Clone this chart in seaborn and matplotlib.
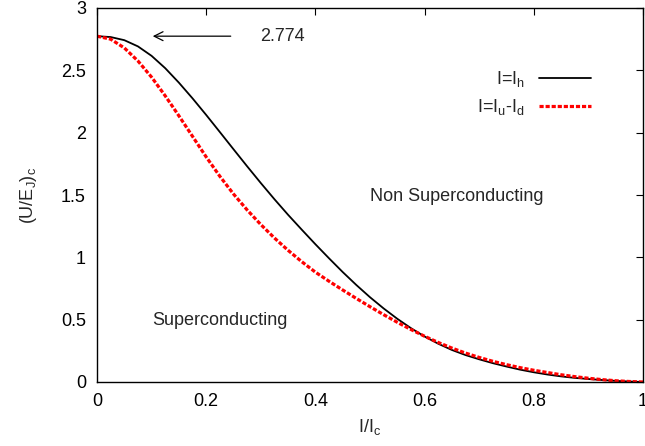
import numpy as np
import pandas as pd
import matplotlib
matplotlib.use("Agg")
import matplotlib.pyplot as plt
import seaborn as sns

# I/I_c sampling
corriente = [0.0, 0.025, 0.05, 0.075, 0.1, 0.125, 0.15, 0.175, 0.2, 0.225,
             0.25, 0.275, 0.3, 0.325, 0.35, 0.375, 0.4, 0.425, 0.45, 0.475,
             0.5, 0.525, 0.55, 0.575, 0.6, 0.625, 0.65, 0.675, 0.7, 0.725,
             0.75, 0.775, 0.8, 0.825, 0.85, 0.875, 0.9, 0.925, 0.95, 0.975, 1.0]

# I = I_h  (black solid)
barrera_h = [2.774, 2.767, 2.742, 2.692, 2.616, 2.517, 2.401, 2.275, 2.142, 2.005,
             1.867, 1.730, 1.596, 1.466, 1.341, 1.222, 1.105, 0.992, 0.882, 0.778,
             0.680, 0.590, 0.507, 0.432, 0.365, 0.307, 0.257, 0.216, 0.182, 0.151,
             0.124, 0.099, 0.078, 0.060, 0.045, 0.033, 0.024, 0.016, 0.009, 0.004, 0.0]

# I = I_u - I_d  (red dashed)
barrera_ud = [2.774, 2.75, 2.68, 2.575, 2.445, 2.295, 2.135, 1.970, 1.805, 1.650,
              1.508, 1.380, 1.263, 1.155, 1.056, 0.965, 0.881, 0.808, 0.738, 0.670,
              0.604, 0.540, 0.479, 0.421, 0.367, 0.317, 0.272, 0.232, 0.197, 0.166,
              0.139, 0.115, 0.094, 0.076, 0.058, 0.043, 0.030, 0.019, 0.010, 0.004, 0.0]

valor_max = 2.774
xticks = [0, 0.2, 0.4, 0.6, 0.8, 1]
xticklabels = ['0', '0.2', '0.4', '0.6', '0.8', '1']
yticks = [0, 0.5, 1, 1.5, 2, 2.5, 3]
yticklabels = ['0', '0.5', '1', '1.5', '2', '2.5', '3']

df = pd.DataFrame({'x': corriente, 'h': barrera_h, 'ud': barrera_ud})

sns.set_style("white")
plt.rcParams['font.family'] = ['Liberation Sans', 'DejaVu Sans']
plt.rcParams['mathtext.fontset'] = 'custom'
plt.rcParams['mathtext.rm'] = 'Liberation Sans'
plt.rcParams['mathtext.it'] = 'Liberation Sans'

fs = 13

fig = plt.figure(figsize=(6.45, 4.46), dpi=100)
ax = fig.add_axes([97/645, 64/446, 546/645, 374/446])

sns.lineplot(data=df, x='x', y='h', ax=ax, color='black', lw=1.3,
             label=r'I=I$_\mathrm{h}$')
sns.lineplot(data=df, x='x', y='ud', ax=ax, color='#ff0000', lw=2.3,
             label=r'I=I$_\mathrm{u}$-I$_\mathrm{d}$')
ax.lines[1].set_dashes((1.3, 0.6))

ax.set_xlim(0, 1)
ax.set_ylim(0, 3)
ax.set_xticks(xticks)
ax.set_xticklabels(xticklabels)
ax.set_yticks(yticks)
ax.set_yticklabels(yticklabels)
ax.tick_params(direction='in', length=5, width=0.8, top=True, right=True,
               labelsize=fs, pad=8, colors='black')
ax.tick_params(axis='x', labeltop=False)
ax.tick_params(axis='y', labelright=False)
for sp in ax.spines.values():
    sp.set_color('black')
    sp.set_linewidth(1.0)

ax.set_xlabel(r'I/I$_\mathrm{c}$', fontsize=fs, labelpad=5)
ax.set_ylabel(r'(U/E$_\mathrm{J}$)$_\mathrm{c}$', fontsize=fs, labelpad=16)

ax.annotate('', xy=(0.097, valor_max), xytext=(0.250, valor_max),
            arrowprops=dict(arrowstyle='->', color='black', lw=0.9,
                            mutation_scale=16))
ax.text(0.2985, valor_max, '2.774', fontsize=fs, va='center', ha='left')
ax.text(0.5, 1.484, 'Non Superconducting', fontsize=fs, va='center', ha='left')
ax.text(0.1007, 0.497, 'Superconducting', fontsize=fs, va='center', ha='left')

leg = ax.legend(loc='upper right', bbox_to_anchor=(0.935, 0.88),
                frameon=False, markerfirst=False, fontsize=fs,
                handlelength=2.9, handletextpad=0.8, labelspacing=0.45)

fig.savefig('out.png', dpi=100)
